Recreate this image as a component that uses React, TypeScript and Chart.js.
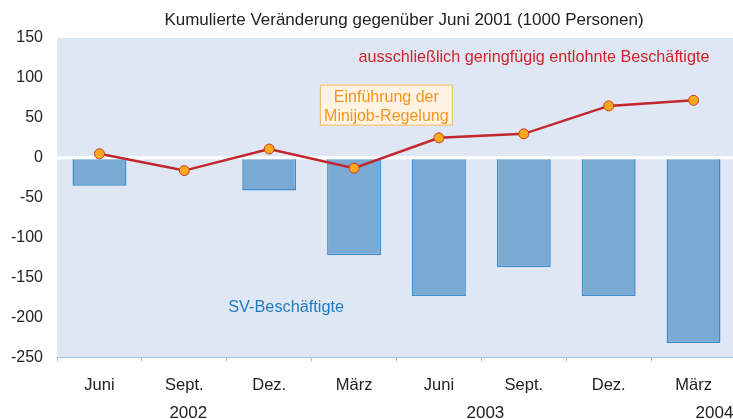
import React, { useEffect, useRef } from "react";
import { Chart, registerables } from "chart.js";

Chart.register(...registerables);

const categories = ["Juni", "Sept.", "Dez.", "März", "Juni", "Sept.", "Dez.", "März"];
const svValues = [-35, -1.5, -41, -122, -173, -137, -173, -232];
const minijobValues = [5, -16, 11, -13, 25, 30, 65, 72];
const years = ["2002", "2003", "2004"];
const yearFirst = [0, 3, 7];
const yearLast = [2, 6, 7];
const yMin = -250;
const yMax = 150;
const yStep = 50;

const titleText = "Kumulierte Veränderung gegenüber Juni 2001 (1000 Personen)";
const lineLabel = "ausschließlich geringfügig entlohnte Beschäftigte";
const barLabel = "SV-Beschäftigte";
const boxLines = ["Einführung der", "Minijob-Regelung"];

const FONT = "'Liberation Sans', Arial, Helvetica, sans-serif";

export default function App() {
  const ref = useRef<HTMLCanvasElement>(null);

  useEffect(() => {
    if (!ref.current) return;

    const decor = {
      id: "decor",
      beforeDraw(chart: any) {
        const { ctx, chartArea } = chart;
        ctx.save();
        ctx.fillStyle = "#ffffff";
        ctx.fillRect(0, 0, chart.width, chart.height);
        ctx.fillStyle = "#e0e7f4";
        ctx.fillRect(chartArea.left, chartArea.top, chartArea.right - chartArea.left, chartArea.bottom - chartArea.top);
        ctx.restore();
      },
      beforeDatasetDraw(chart: any, args: any) {
        if (args.index !== 0) return;
        const { ctx, chartArea } = chart;
        const y = chart.scales.y.getPixelForValue(0);
        ctx.save();
        ctx.strokeStyle = "#ffffff";
        ctx.lineWidth = 3;
        ctx.beginPath();
        ctx.moveTo(chartArea.left, y);
        ctx.lineTo(chartArea.right, y);
        ctx.stroke();
        ctx.restore();
      },
      afterDraw(chart: any) {
        const { ctx } = chart;
        const xs = chart.scales.x;
        const ys = chart.scales.y;
        ctx.save();
        ctx.textBaseline = "middle";
        // title
        ctx.font = `17px ${FONT}`;
        ctx.fillStyle = "#222222";
        ctx.textAlign = "center";
        ctx.fillText(titleText, 404, 20);
        // line series label
        ctx.font = `16.2px ${FONT}`;
        ctx.fillStyle = "#d2232a";
        ctx.fillText(lineLabel, xs.getPixelForValue(5.12), ys.getPixelForValue(126));
        // bar series label
        ctx.fillStyle = "#1f7bc0";
        ctx.font = `16.3px ${FONT}`;
        ctx.fillText(barLabel, xs.getPixelForValue(2.2), ys.getPixelForValue(-188));
        // box
        const bx = xs.getPixelForValue(3.38);
        const by = ys.getPixelForValue(66);
        const bw = 133;
        const bh = 41;
        ctx.fillStyle = "#fff4e3";
        ctx.fillRect(bx - bw / 2, by - bh / 2, bw, bh);
        ctx.strokeStyle = "#f8b55a";
        ctx.lineWidth = 1;
        ctx.strokeRect(bx - bw / 2 + 0.5, by - bh / 2 + 0.5, bw - 1, bh - 1);
        ctx.fillStyle = "#f7941d";
        ctx.font = `16px ${FONT}`;
        ctx.fillText(boxLines[0], bx, by - 8);
        ctx.fillText(boxLines[1], bx, by + 11);
        // years
        ctx.fillStyle = "#222222";
        ctx.font = `17px ${FONT}`;
        years.forEach((yr, i) => {
          const c = (yearFirst[i] + yearLast[i]) / 2;
          const px = xs.getPixelForValue(c);
          if (i === years.length - 1) {
            ctx.textAlign = "left";
            ctx.fillText(yr, px + 2, 413);
          } else {
            ctx.textAlign = "center";
            ctx.fillText(yr, px + 4, 413);
          }
        });
        ctx.restore();
      },
    };

    const chart = new Chart(ref.current, {
      data: {
        labels: categories,
        datasets: [
          {
            type: "line",
            data: minijobValues,
            borderColor: "#c1272d",
            borderWidth: 2.5,
            pointRadius: 5,
            pointBackgroundColor: "#fbaa1c",
            pointBorderColor: "#d0392b",
            pointBorderWidth: 1,
            tension: 0,
            fill: false,
          },
          {
            type: "bar",
            data: svValues,
            backgroundColor: "#7aaad4",
            borderColor: "#3f8ccc",
            borderWidth: 1.5,
            borderSkipped: false,
            barPercentage: 0.635,
            categoryPercentage: 1,
          },
        ],
      } as any,
      options: {
        responsive: false,
        animation: false,
        layout: { autoPadding: false, padding: { top: 38, left: 0, right: 0, bottom: 0 } },
        plugins: {
          legend: { display: false },
          title: { display: false },
          tooltip: { enabled: false },
        },
        scales: {
          x: {
            type: "category",
            offset: true,
            afterFit: (s: any) => {
              s.height = 61.5;
            },
            grid: {
              offset: true,
              drawOnChartArea: false,
              drawTicks: true,
              tickLength: 4,
              color: "#a4c2e4",
            },
            border: { display: true, color: "#a4c2e4", width: 1 },
            ticks: {
              color: "#222222",
              font: { family: FONT, size: 16.5 },
              padding: 14,
              maxRotation: 0,
              autoSkip: false,
            },
          },
          y: {
            min: yMin,
            max: yMax,
            afterFit: (s: any) => {
              s.width = 57;
            },
            grid: { display: false, drawTicks: false },
            border: { display: false },
            ticks: {
              stepSize: yStep,
              color: "#222222",
              font: { family: FONT, size: 16 },
              padding: 14,
            },
          },
        },
      } as any,
      plugins: [decor],
    });

    return () => chart.destroy();
  }, []);

  return (
    <div style={{ position: "fixed", left: 0, top: 0, width: 733, height: 419, overflow: "hidden", background: "#fff" }}>
      <div style={{ width: 736, height: 419 }}>
        <canvas ref={ref} width={736} height={419} style={{ display: "block", width: 736, height: 419 }} />
      </div>
    </div>
  );
}
